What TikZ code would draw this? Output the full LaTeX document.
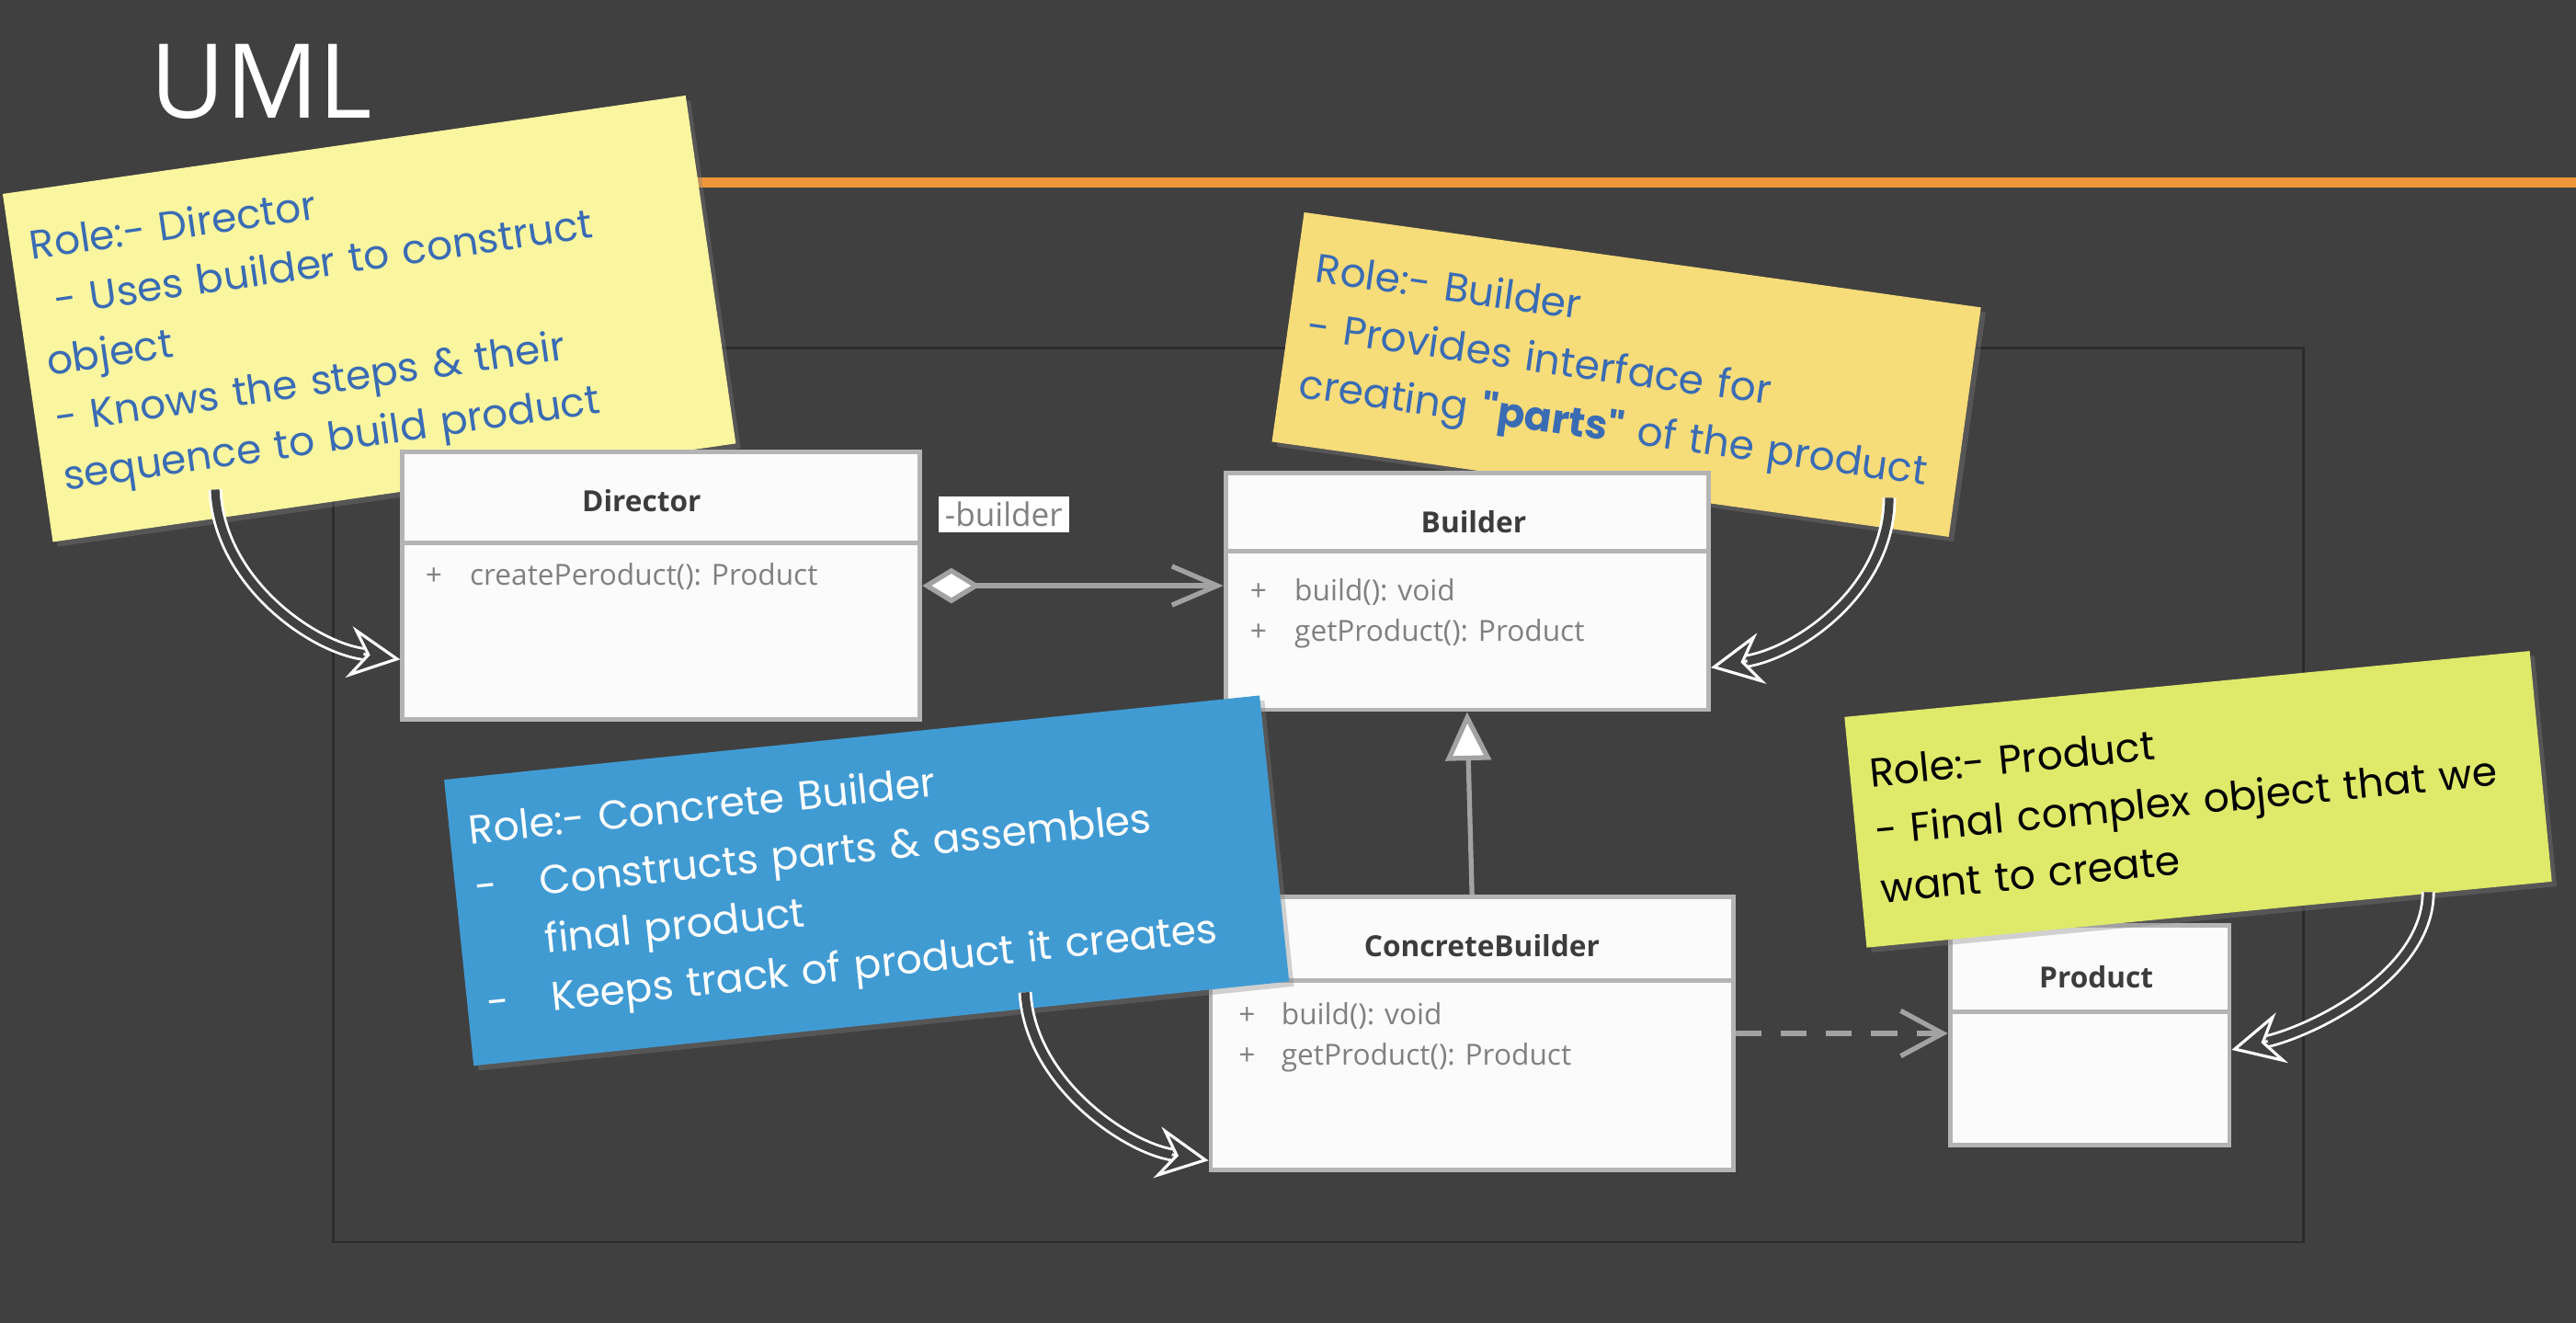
\documentclass[tikz,border=0pt]{standalone}
\usepackage{fontspec}
\setmainfont{Open Sans}
\newfontfamily\handfont{Poppins}
\usetikzlibrary{positioning, arrows.meta, calc, shadows}

\hyphenpenalty=10000
\exhyphenpenalty=10000

\newlength{\px}
\setlength{\px}{0.1787mm}

\definecolor{slidebg}{HTML}{404040}
\definecolor{slideframe}{HTML}{2C2C2C}
\definecolor{accent}{HTML}{F0963A}
\definecolor{boxline}{HTML}{B4B4B4}
\definecolor{boxfill}{HTML}{FBFBFB}
\definecolor{titletext}{HTML}{3C3C3C}
\definecolor{membertext}{HTML}{808080}
\definecolor{linkgray}{HTML}{A2A2A2}
\definecolor{directornote}{HTML}{FAF6A0}
\definecolor{buildernote}{HTML}{F7DC7A}
\definecolor{concretenote}{HTML}{419BD3}
\definecolor{productnote}{HTML}{DFE96A}
\definecolor{handblue}{HTML}{3A6CB4}

\begin{document}
\begin{tikzpicture}[
    x=\px, y=-\px,
    slide_title/.style={
        text=white,
        inner sep=0pt,
        font=\fontsize{32}{36}\selectfont
    },
    class_box/.style={
        rectangle,
        fill=boxfill,
        draw=boxline,
        line width=1.4pt,
        inner sep=0pt
    },
    class_line/.style={
        draw=boxline,
        line width=1.4pt
    },
    class_title/.style={
        text=titletext,
        inner sep=0pt,
        font=\bfseries\fontsize{9}{11}\selectfont
    },
    member/.style={
        text=membertext,
        anchor=west,
        inner sep=0pt,
        font=\fontsize{9}{11}\selectfont
    },
    note/.style={
        rectangle,
        inner xsep=6pt,
        inner ysep=0pt,
        align=left,
        font=\handfont\fontsize{12.5}{18}\selectfont,
        drop shadow={shadow xshift=1.5pt, shadow yshift=-1.5pt, opacity=0.35}
    },
    link/.style={
        draw=linkgray,
        line width=1.5pt
    },
    link_label/.style={
        fill=white,
        text=membertext,
        inner xsep=2pt,
        inner ysep=0pt,
        minimum height=22\px,
        font=\fontsize{10}{12}\selectfont
    },
    callout_head/.style={
        draw=white,
        line width=0.8pt,
        -{Stealth[length=16pt, width=16pt, inset=5.5pt, fill=slidebg, line width=0.9pt]}
    },
    callout_shaft/.style={
        draw=white,
        line width=0.8pt,
        double=slidebg,
        double distance=2.6pt,
        shorten >=11.5pt
    }
]

    \useasboundingbox (0,0) rectangle (1568,805);
    \fill[slidebg] (0,0) rectangle (1568,805);

    % slide decoration
    \node[slide_title] (uml) at (159,49.5) {UML};
    \draw[accent, line width=3pt] (380,111) -- (1568,111);
    \draw[slideframe, line width=0.8pt] (203,212) rectangle (1402,756);

    % notes behind the classes
    \node[note, fill=directornote, text=handblue, rotate=8.2,
          minimum width=420\px, minimum height=214\px, text width=396\px]
          (director_note) at (224.75,194)
          {Role:- Director\\
           \hspace*{5pt}- Uses builder to construct\\
           object\\
           - Knows the steps \& their\\
           sequence to build product};
    \node[note, fill=buildernote, text=handblue, rotate=-8,
          minimum width=416\px, minimum height=141\px, text width=392\px]
          (builder_note) at (990,228)
          {Role:- Builder\\
           - Provides interface for\\
           creating \textbf{"parts"} of the product};

    % Director
    \node[class_box, minimum width=315\px, minimum height=163\px] (director) at (402.5,356.5) {};
    \draw[class_line] ($(director.north west)+(0,57)$) -- ($(director.north east)+(0,57)$);
    \node[class_title] (director_title) at ($(director.north)+(-12,31)$) {Director};
    \node[member] (director_m1) at ($(director.north west)+(15,77)$) {\makebox[27\px][l]{+}createPeroduct(): Product};

    % Builder
    \node[class_box, minimum width=294\px, minimum height=144\px] (builder) at (893,360) {};
    \draw[class_line] ($(builder.north west)+(0,49)$) -- ($(builder.north east)+(0,49)$);
    \node[class_title] (builder_title) at ($(builder.north)+(4,31)$) {Builder};
    \node[member] (builder_m1) at ($(builder.north west)+(16,74)$) {\makebox[27\px][l]{+}build(): void};
    \node[member] (builder_m2) at ($(builder.north west)+(16,99)$) {\makebox[27\px][l]{+}getProduct(): Product};

    % ConcreteBuilder
    \node[class_box, minimum width=318\px, minimum height=166\px] (concrete) at (896,629) {};
    \draw[class_line] ($(concrete.north west)+(0,52)$) -- ($(concrete.north east)+(0,52)$);
    \node[class_title] (concrete_title) at ($(concrete.north)+(6,31)$) {ConcreteBuilder};
    \node[member] (concrete_m1) at ($(concrete.north west)+(18,74)$) {\makebox[26\px][l]{+}build(): void};
    \node[member] (concrete_m2) at ($(concrete.north west)+(18,99)$) {\makebox[26\px][l]{+}getProduct(): Product};

    % Product
    \node[class_box, minimum width=170\px, minimum height=134\px] (product) at (1272,630) {};
    \draw[class_line] ($(product.north west)+(0,54)$) -- ($(product.north east)+(0,54)$);
    \node[class_title] (product_title) at ($(product.north)+(4,33)$) {Product};

    % relations
    \draw[link, {Diamond[fill=white, length=18pt, width=11pt]}-{Straight Barb[length=14pt, width=12pt]}]
        (director.east) -- (director.east -| builder.west);
    \node[link_label] (builder_role) at (611,313) {-builder};
    \draw[link, -{Triangle[fill=white, length=15pt, width=14pt]}] (concrete.north) -- (builder.south);
    \draw[link, dash pattern=on 8pt off 6pt, -{Straight Barb[length=13pt, width=14pt]}]
        (concrete.east) -- (concrete.east -| product.west);

    % notes in front of the classes
    \node[note, fill=concretenote, text=white, rotate=5.9,
          minimum width=499\px, minimum height=175\px, text width=475\px]
          (concrete_note) at (527.5,536)
          {Role:- Concrete Builder\\
           \makebox[20pt][l]{-}Constructs parts \& assembles\\
           \hspace*{20pt}final product\\
           \makebox[20pt][l]{-}Keeps track of product it creates};
    \node[note, fill=productnote, text=black, rotate=5.5,
          minimum width=419\px, minimum height=141\px, text width=395\px]
          (product_note) at (1338,486.5)
          {Role:- Product\\
           - Final complex object that we\\
           want to create};

    % callout arrows
    \coordinate (director_tail) at (131,298);
    \coordinate (director_tip) at ($(director.south west)+(0,-38)$);
    \coordinate (builder_tail) at (1150,303);
    \coordinate (builder_tip) at ($(builder.south east)+(0,-27)$);
    \coordinate (concrete_tail) at (624,604);
    \coordinate (concrete_tip) at ($(concrete.south west)+(0,-7)$);
    \coordinate (product_tail) at (1478,543);
    \coordinate (product_tip) at ($(product.east)+(0,9)$);

    \foreach \tail/\tip/\ca/\cb in {director/director/{2,55}/{-55,-8},
                                    builder/builder/{0,55}/{55,-10},
                                    concrete/concrete/{3,55}/{-50,-8},
                                    product/product/{0,50}/{50,-12}}{
        \draw[callout_head] (\tail_tail) .. controls +(\ca) and +(\cb) .. (\tip_tip);
        \draw[callout_shaft] (\tail_tail) .. controls +(\ca) and +(\cb) .. (\tip_tip);
    }

\end{tikzpicture}
\end{document}
